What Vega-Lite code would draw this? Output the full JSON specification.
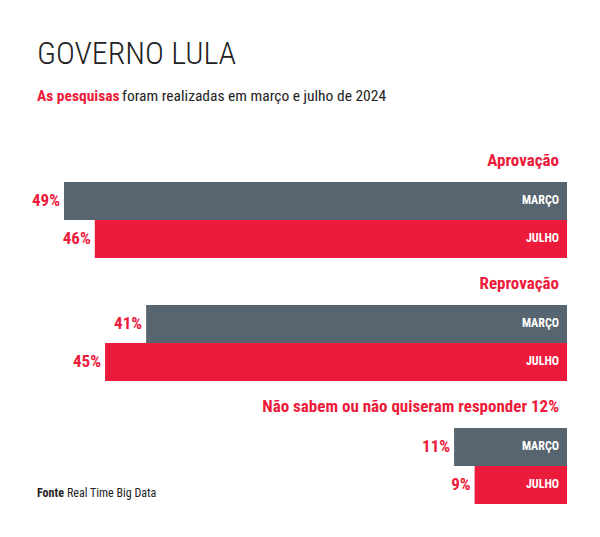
{
  "$schema": "https://vega.github.io/schema/vega-lite/v6.json",
  "width": 503,
  "height": 322,
  "autosize": {"type": "none"},
  "padding": {"left": 64, "top": 182, "right": 33, "bottom": 33},
  "background": "white",
  "title": {"text": "GOVERNO LULA", "anchor": "start", "frame": "group", "dx": -27, "font": "'Roboto Condensed', Roboto, sans-serif", "fontWeight": 300, "fontSize": 32, "color": "#222222", "offset": 18},
  "config": {"view": {"stroke": null}, "text": {"font": "'Roboto Condensed', 'Liberation Sans Narrow', 'DejaVu Sans Condensed', sans-serif"}},
  "data": {"values": [
    {"grupo": "Aprovação", "mes": "MARÇO", "valor": 0.49},
    {"grupo": "Aprovação", "mes": "JULHO", "valor": 0.46},
    {"grupo": "Reprovação", "mes": "MARÇO", "valor": 0.41},
    {"grupo": "Reprovação", "mes": "JULHO", "valor": 0.45},
    {"grupo": "Não sabem ou não quiseram responder 12%", "mes": "MARÇO", "valor": 0.11},
    {"grupo": "Não sabem ou não quiseram responder 12%", "mes": "JULHO", "valor": 0.09}
  ]},
  "layer": [
    {
      "mark": {"type": "bar"},
      "encoding": {
        "x": {"field": "valor", "type": "quantitative", "axis": null, "scale": {"domain": [0, 0.49], "reverse": true, "nice": false}},
        "y": {"field": "grupo", "type": "nominal", "axis": null, "scale": {"domain": ["Aprovação", "Reprovação", "Não sabem ou não quiseram responder 12%"], "paddingInner": 0.3821, "paddingOuter": 0}},
        "yOffset": {"field": "mes", "type": "nominal", "scale": {"domain": ["MARÇO", "JULHO"], "paddingInner": 0, "paddingOuter": 0}},
        "color": {"field": "mes", "type": "nominal", "legend": null, "scale": {"domain": ["MARÇO", "JULHO"], "range": ["#56656f", "#ed1b3b"]}}
      }
    },
    {
      "mark": {"type": "text", "align": "right", "baseline": "middle", "dx": -8, "dy": -1, "fontWeight": "bold", "fontSize": 12, "color": "white"},
      "encoding": {
        "x": {"datum": 0, "type": "quantitative"},
        "y": {"field": "grupo", "type": "nominal"},
        "yOffset": {"field": "mes", "type": "nominal"},
        "text": {"field": "mes"}
      }
    },
    {
      "mark": {"type": "text", "align": "right", "baseline": "middle", "dx": -4, "fontWeight": "bold", "fontSize": 17, "color": "#ed1b3b"},
      "encoding": {
        "x": {"field": "valor", "type": "quantitative"},
        "y": {"field": "grupo", "type": "nominal"},
        "yOffset": {"field": "mes", "type": "nominal"},
        "text": {"field": "valor", "type": "quantitative", "format": ".0%"}
      }
    },
    {
      "transform": [{"filter": "datum.mes === 'MARÇO'"}],
      "mark": {"type": "text", "align": "right", "baseline": "alphabetic", "dx": -8, "dy": -16, "fontWeight": "bold", "fontSize": 17, "color": "#ed1b3b"},
      "encoding": {
        "x": {"datum": 0, "type": "quantitative"},
        "y": {"field": "grupo", "type": "nominal", "bandPosition": 0},
        "text": {"field": "grupo"}
      }
    },
    {
      "data": {"values": [{"texto": "As pesquisas"}]},
      "mark": {"type": "text", "align": "left", "baseline": "alphabetic", "dx": -27, "dy": -81, "fontWeight": "bold", "fontSize": 15.5, "color": "#ed1b3b"},
      "encoding": {
        "x": {"datum": 0.49, "type": "quantitative"},
        "y": {"datum": "Aprovação", "type": "nominal", "bandPosition": 0},
        "text": {"field": "texto"}
      }
    },
    {
      "data": {"values": [{"texto": "foram realizadas em março e julho de 2024"}]},
      "mark": {"type": "text", "align": "left", "baseline": "alphabetic", "dx": 58, "dy": -81, "fontSize": 15.5, "color": "#222222"},
      "encoding": {
        "x": {"datum": 0.49, "type": "quantitative"},
        "y": {"datum": "Aprovação", "type": "nominal", "bandPosition": 0},
        "text": {"field": "texto"}
      }
    },
    {
      "data": {"values": [{"texto": "Fonte"}]},
      "mark": {"type": "text", "align": "left", "baseline": "alphabetic", "dx": -27, "dy": 12, "fontWeight": "bold", "fontSize": 12, "color": "#222222"},
      "encoding": {
        "x": {"datum": 0.49, "type": "quantitative"},
        "y": {"datum": "Não sabem ou não quiseram responder 12%", "type": "nominal"},
        "yOffset": {"datum": "JULHO", "type": "nominal"},
        "text": {"field": "texto"}
      }
    },
    {
      "data": {"values": [{"texto": "Real Time Big Data"}]},
      "mark": {"type": "text", "align": "left", "baseline": "alphabetic", "dx": 3, "dy": 12, "fontSize": 12, "color": "#222222"},
      "encoding": {
        "x": {"datum": 0.49, "type": "quantitative"},
        "y": {"datum": "Não sabem ou não quiseram responder 12%", "type": "nominal"},
        "yOffset": {"datum": "JULHO", "type": "nominal"},
        "text": {"field": "texto"}
      }
    }
  ]
}
